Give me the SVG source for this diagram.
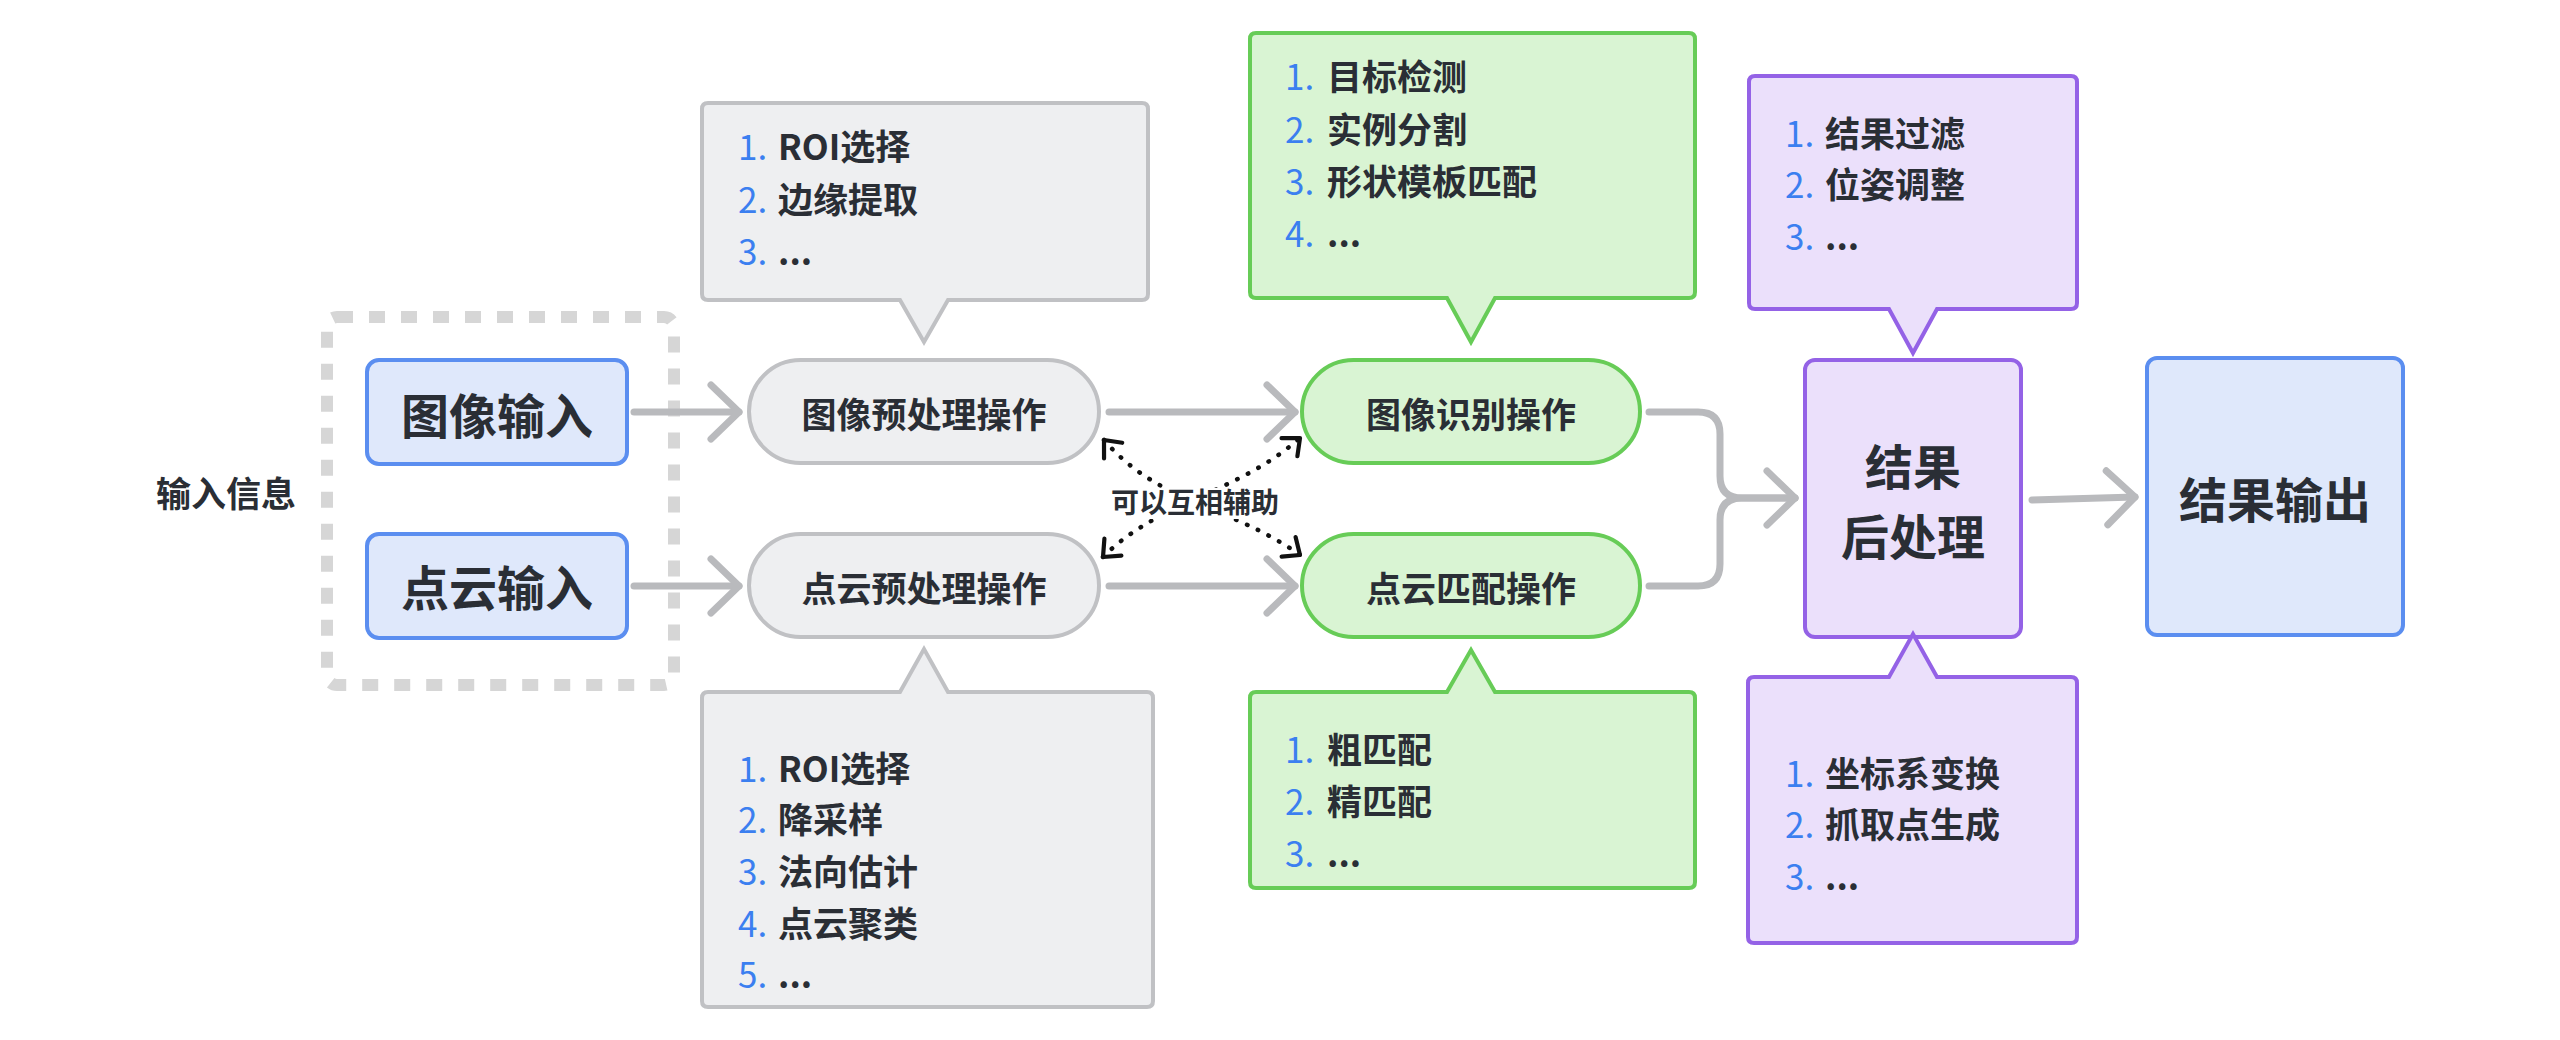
<svg xmlns="http://www.w3.org/2000/svg" width="2560" height="1040" viewBox="0 0 2560 1040">
<defs>
<style>
.t{font-family:"Noto Sans CJK SC","Noto Sans",sans-serif;font-weight:700;fill:#2a2e35}
.n{font-family:"Noto Sans CJK SC","Noto Sans",sans-serif;font-weight:400;fill:#3b7ff0}
.li{font-size:35px}
.blue{fill:#dfe8fb;stroke:#5b8ef0;stroke-width:4}
.gray{fill:#eeeff1;stroke:#c0c1c4;stroke-width:4}
.green{fill:#d9f4d3;stroke:#67cc57;stroke-width:4}
.purple{fill:#ebe0fb;stroke:#9462e6;stroke-width:4}
.conn{fill:none;stroke:#b9babd;stroke-width:7;stroke-linecap:round;stroke-linejoin:round}
.dot{fill:none;stroke:#111111;stroke-width:4.5;stroke-dasharray:0.5 11.5;stroke-linecap:round}
</style>
<marker id="ga" viewBox="-34 -32 40 64" markerWidth="40" markerHeight="64" refX="0" refY="0" orient="auto" markerUnits="userSpaceOnUse">
<path d="M-28,-27 L0,0 L-28,27" fill="none" stroke="#b9babd" stroke-width="7" stroke-linecap="round" stroke-linejoin="round"/>
</marker>
<marker id="da" viewBox="-20 -17 24 34" markerWidth="24" markerHeight="34" refX="0" refY="0" orient="auto-start-reverse" markerUnits="userSpaceOnUse">
<path d="M-14,-12 L0,0 L-14,12" fill="none" stroke="#111111" stroke-width="4.2" stroke-linecap="round" stroke-linejoin="round"/>
</marker>
</defs>
<rect width="2560" height="1040" fill="#ffffff"/>

<g id="input-group">
<rect x="327" y="317" width="347" height="368" rx="10" fill="none" stroke="#d6d6d6" stroke-width="12" stroke-dasharray="16 16"/>
<text class="t" x="226" y="507" font-size="35" text-anchor="middle">输入信息</text>
</g>

<g id="connectors">
<path class="conn" d="M634,412 L739,412" marker-end="url(#ga)"/>
<path class="conn" d="M634,586 L739,586" marker-end="url(#ga)"/>
<path class="conn" d="M1109,412 L1295,412" marker-end="url(#ga)"/>
<path class="conn" d="M1109,586 L1295,586" marker-end="url(#ga)"/>
<path class="conn" d="M1649,412 L1698,412 Q1720,412 1720,434 L1720,476 Q1720,498 1742,498 L1795,498" marker-end="url(#ga)"/>
<path class="conn" d="M1649,586 L1698,586 Q1720,586 1720,564 L1720,520 Q1720,498 1742,498 L1795,498"/>
<path class="conn" d="M2032,500 L2135,497" marker-end="url(#ga)"/>
<path class="dot" d="M1104,440 C1160,505 1230,505 1300,555" marker-start="url(#da)" marker-end="url(#da)"/>
<path class="dot" d="M1103,557 C1160,500 1235,495 1300,438" marker-start="url(#da)" marker-end="url(#da)"/>
<rect x="1110" y="488" width="170" height="31" fill="#ffffff"/>
<text class="t" x="1195" y="513" font-size="28" text-anchor="middle">可以互相辅助</text>
</g>

<g id="image-input">
<rect class="blue" x="367" y="360" width="260" height="104" rx="12"/>
<text class="t" x="497" y="434" font-size="48" text-anchor="middle">图像输入</text>
</g>
<g id="pointcloud-input">
<rect class="blue" x="367" y="534" width="260" height="104" rx="12"/>
<text class="t" x="497" y="606" font-size="48" text-anchor="middle">点云输入</text>
</g>

<g id="image-preprocess">
<rect class="gray" x="749" y="360" width="350" height="103" rx="51.5"/>
<text class="t" x="924" y="428" font-size="35" text-anchor="middle">图像预处理操作</text>
</g>
<g id="pointcloud-preprocess">
<rect class="gray" x="749" y="534" width="350" height="103" rx="51.5"/>
<text class="t" x="924" y="602" font-size="35" text-anchor="middle">点云预处理操作</text>
</g>

<g id="image-recognition">
<rect class="green" x="1302" y="360" width="338" height="103" rx="51.5"/>
<text class="t" x="1471" y="428" font-size="35" text-anchor="middle">图像识别操作</text>
</g>
<g id="pointcloud-matching">
<rect class="green" x="1302" y="534" width="338" height="103" rx="51.5"/>
<text class="t" x="1471" y="602" font-size="35" text-anchor="middle">点云匹配操作</text>
</g>

<g id="result-postprocess">
<rect class="purple" x="1805" y="360" width="216" height="277" rx="10"/>
<text class="t" x="1913" y="485" font-size="48" text-anchor="middle">结果</text>
<text class="t" x="1913" y="555" font-size="48" text-anchor="middle">后处理</text>
</g>
<g id="result-output">
<rect class="blue" x="2147" y="358" width="256" height="277" rx="10"/>
<text class="t" x="2275" y="518" font-size="48" text-anchor="middle">结果输出</text>
</g>

<g id="note-image-preprocess">
<path class="gray" d="M708,103 H1142 Q1148,103 1148,109 V294 Q1148,300 1142,300 H948 L924,342 L900,300 H708 Q702,300 702,294 V109 Q702,103 708,103 Z"/>
<text class="li"><tspan class="n" x="738" y="160">1.</tspan><tspan class="t" x="778" y="160">ROI选择</tspan></text>
<text class="li"><tspan class="n" x="738" y="213">2.</tspan><tspan class="t" x="778" y="213">边缘提取</tspan></text>
<text class="li"><tspan class="n" x="738" y="265">3.</tspan><tspan class="t" x="778" y="265">...</tspan></text>
</g>

<g id="note-pointcloud-preprocess">
<path class="gray" d="M708,692 H900 L924,649 L948,692 H1147 Q1153,692 1153,698 V1001 Q1153,1007 1147,1007 H708 Q702,1007 702,1001 V698 Q702,692 708,692 Z"/>
<text class="li"><tspan class="n" x="738" y="782">1.</tspan><tspan class="t" x="778" y="782">ROI选择</tspan></text>
<text class="li"><tspan class="n" x="738" y="833">2.</tspan><tspan class="t" x="778" y="833">降采样</tspan></text>
<text class="li"><tspan class="n" x="738" y="885">3.</tspan><tspan class="t" x="778" y="885">法向估计</tspan></text>
<text class="li"><tspan class="n" x="738" y="937">4.</tspan><tspan class="t" x="778" y="937">点云聚类</tspan></text>
<text class="li"><tspan class="n" x="738" y="988">5.</tspan><tspan class="t" x="778" y="988">...</tspan></text>
</g>

<g id="note-image-recognition">
<path class="green" d="M1256,33 H1689 Q1695,33 1695,39 V292 Q1695,298 1689,298 H1495 L1471,342 L1447,298 H1256 Q1250,298 1250,292 V39 Q1250,33 1256,33 Z"/>
<text class="li"><tspan class="n" x="1285" y="90">1.</tspan><tspan class="t" x="1327" y="90">目标检测</tspan></text>
<text class="li"><tspan class="n" x="1285" y="143">2.</tspan><tspan class="t" x="1327" y="143">实例分割</tspan></text>
<text class="li"><tspan class="n" x="1285" y="195">3.</tspan><tspan class="t" x="1327" y="195">形状模板匹配</tspan></text>
<text class="li"><tspan class="n" x="1285" y="247">4.</tspan><tspan class="t" x="1327" y="247">...</tspan></text>
</g>

<g id="note-pointcloud-matching">
<path class="green" d="M1256,692 H1447 L1471,650 L1495,692 H1689 Q1695,692 1695,698 V882 Q1695,888 1689,888 H1256 Q1250,888 1250,882 V698 Q1250,692 1256,692 Z"/>
<text class="li"><tspan class="n" x="1285" y="763">1.</tspan><tspan class="t" x="1327" y="763">粗匹配</tspan></text>
<text class="li"><tspan class="n" x="1285" y="815">2.</tspan><tspan class="t" x="1327" y="815">精匹配</tspan></text>
<text class="li"><tspan class="n" x="1285" y="867">3.</tspan><tspan class="t" x="1327" y="867">...</tspan></text>
</g>

<g id="note-postprocess-top">
<path class="purple" d="M1755,76 H2071 Q2077,76 2077,82 V303 Q2077,309 2071,309 H1937 L1913,353 L1889,309 H1755 Q1749,309 1749,303 V82 Q1749,76 1755,76 Z"/>
<text class="li"><tspan class="n" x="1785" y="147">1.</tspan><tspan class="t" x="1825" y="147">结果过滤</tspan></text>
<text class="li"><tspan class="n" x="1785" y="198">2.</tspan><tspan class="t" x="1825" y="198">位姿调整</tspan></text>
<text class="li"><tspan class="n" x="1785" y="250">3.</tspan><tspan class="t" x="1825" y="250">...</tspan></text>
</g>

<g id="note-postprocess-bottom">
<path class="purple" d="M1754,677 H1889 L1913,634 L1937,677 H2071 Q2077,677 2077,683 V937 Q2077,943 2071,943 H1754 Q1748,943 1748,937 V683 Q1748,677 1754,677 Z"/>
<text class="li"><tspan class="n" x="1785" y="787">1.</tspan><tspan class="t" x="1825" y="787">坐标系变换</tspan></text>
<text class="li"><tspan class="n" x="1785" y="838">2.</tspan><tspan class="t" x="1825" y="838">抓取点生成</tspan></text>
<text class="li"><tspan class="n" x="1785" y="890">3.</tspan><tspan class="t" x="1825" y="890">...</tspan></text>
</g>
</svg>
